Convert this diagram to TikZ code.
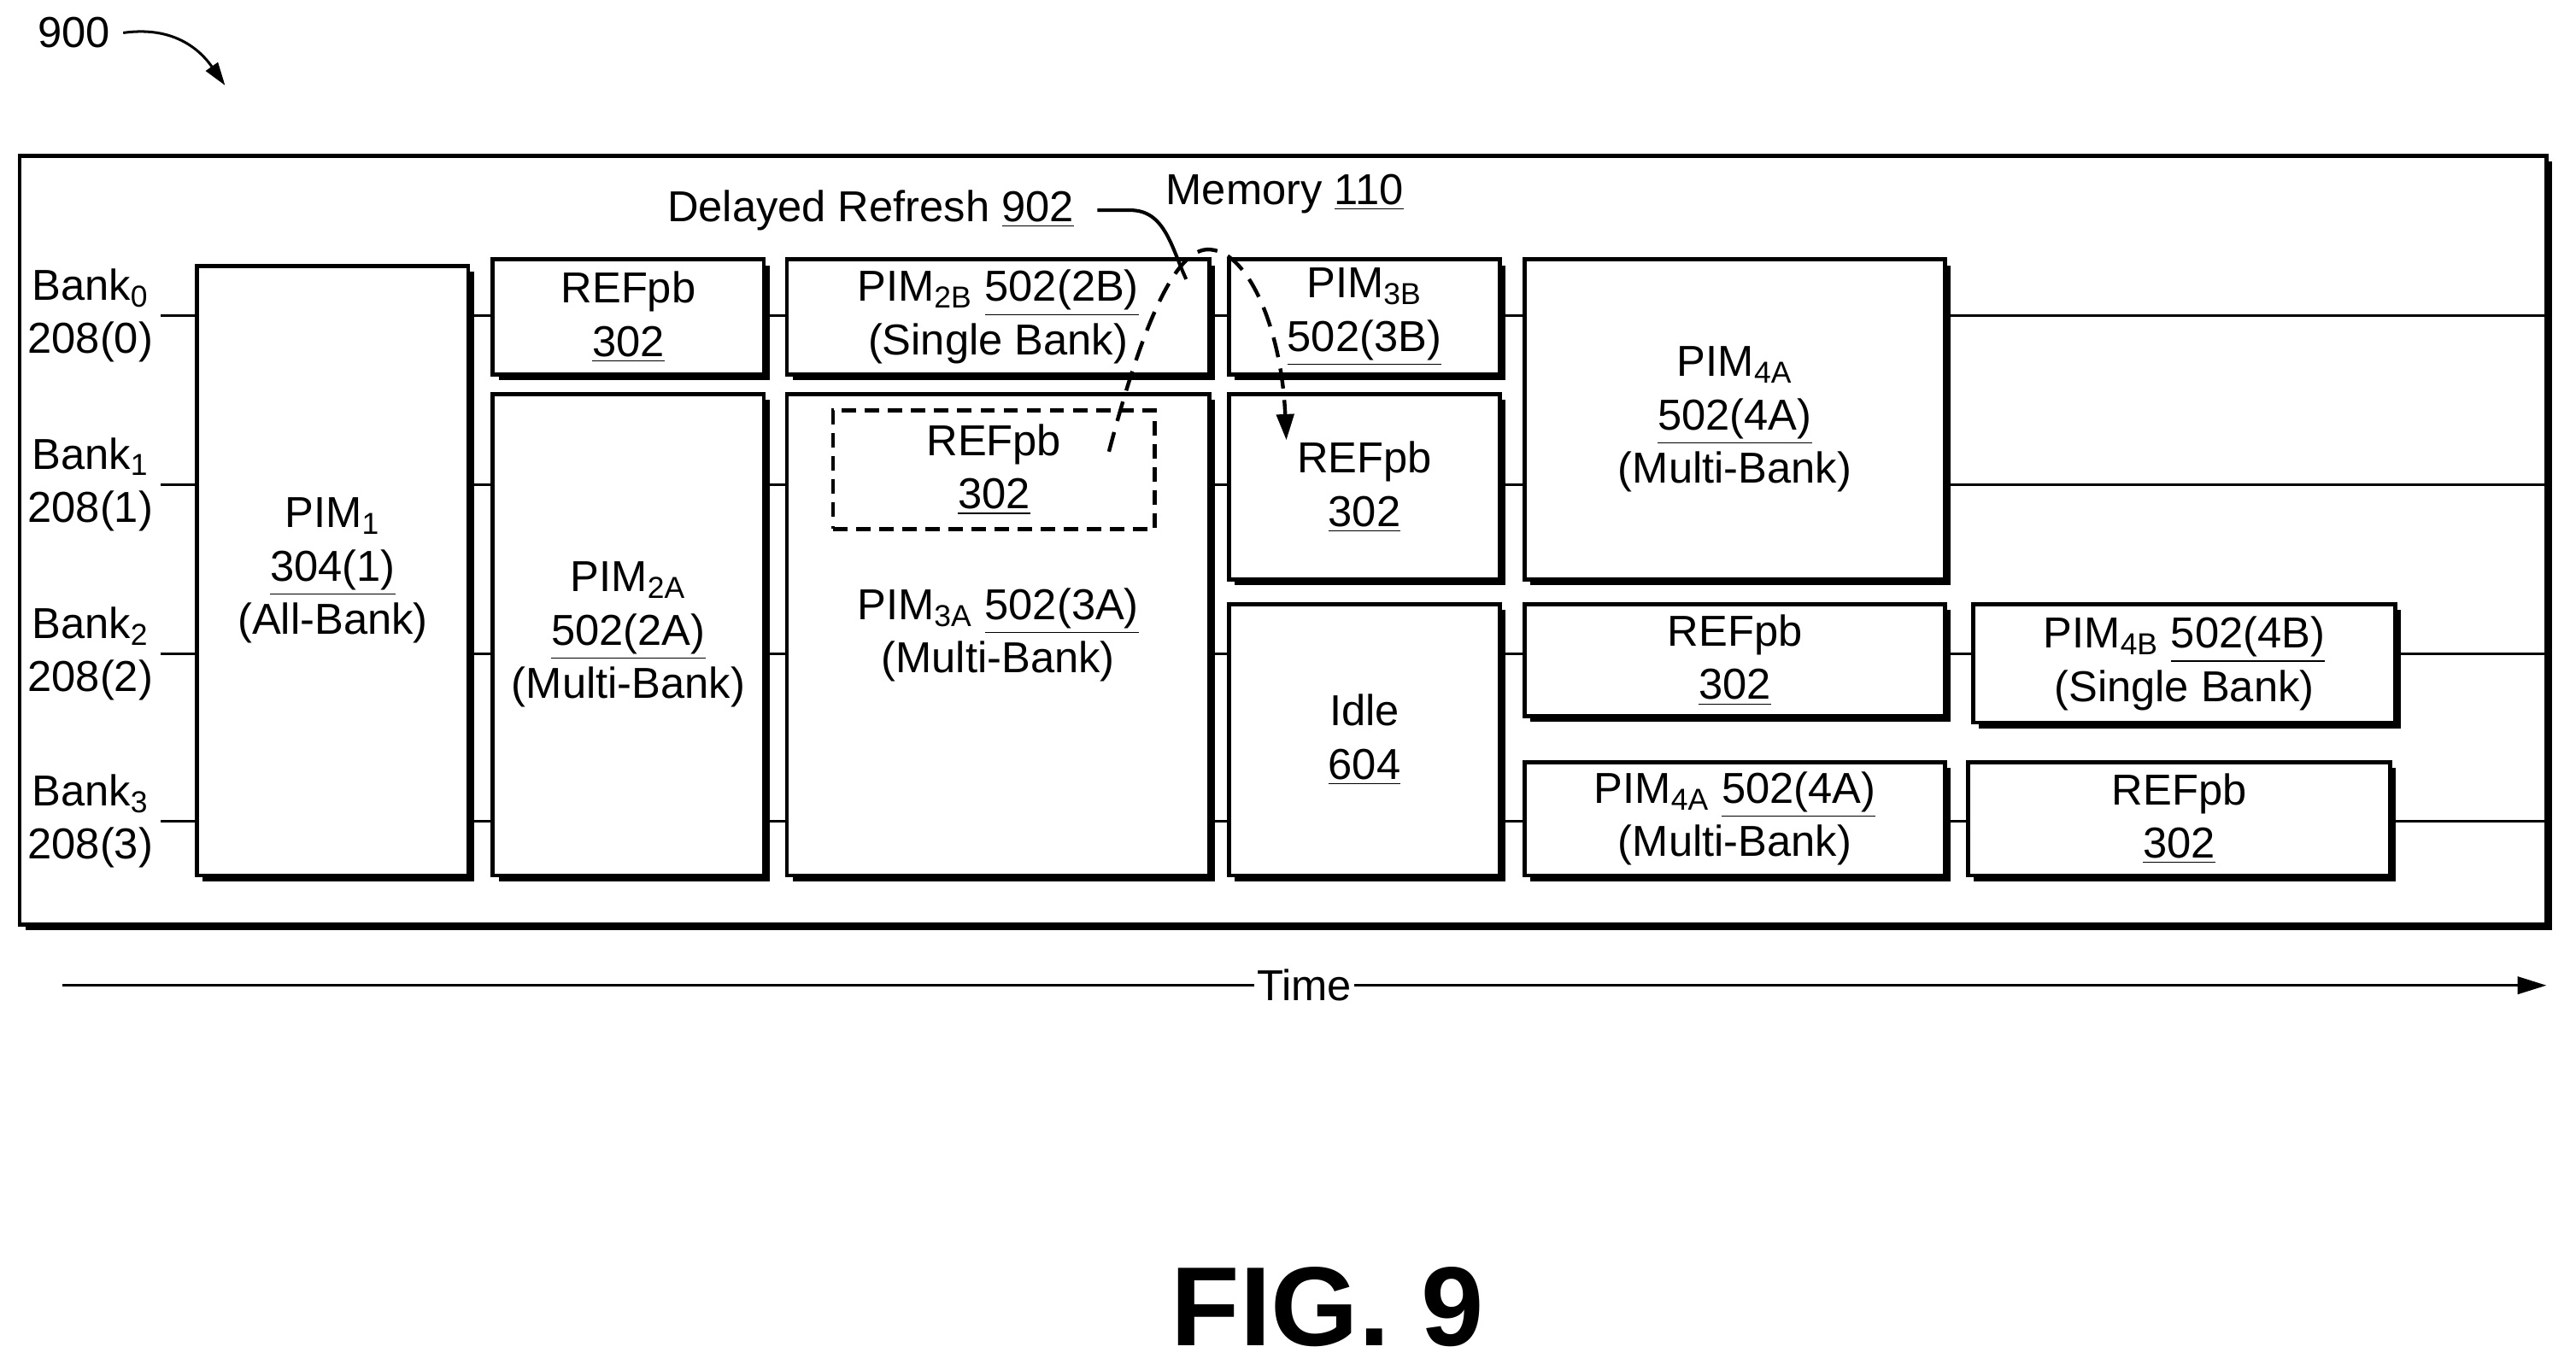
\documentclass[tikz,border=0pt]{standalone}
\usepackage{fontspec}
\setmainfont{Liberation Sans}
\usetikzlibrary{arrows.meta, positioning, fit, shadows}
\tikzset{
  lbl/.style={font=\fontsize{15}{18.5}\selectfont, align=center},
  blk/.style={draw=black, line width=1.4pt, fill=white, inner sep=0pt,
    drop shadow={shadow xshift=0.07cm, shadow yshift=-0.07cm, opacity=1, fill=black},
    label={[lbl]center:#1}},
  dblk/.style={draw=black, line width=1.4pt, dash pattern=on 5pt off 3pt, inner sep=0pt,
    label={[lbl]center:#1}},
  bank/.style={line width=0.9pt}
}
\newcommand{\sub}[1]{\textsubscript{#1}}
\begin{document}
\begin{tikzpicture}[x=0.02cm, y=-0.02cm]
  \useasboundingbox (0,0) rectangle (1568,834);

  % outer frame
  \node (frame) [blk={}, fit={(12,95) (1550,563)}] {};

  % bank lines
  \foreach \y/\i in {192/0, 295/1, 398/2, 500/3} {
    \coordinate (l\i) at (98,\y);
    \coordinate (r\i) at (1550,\y);
    \draw [bank] (l\i) -- (r\i);
    \node [lbl] at (55,\y) {Bank\sub{\i}\\208(\i)};
  }

  % blocks
  \node (pim1)  [blk={PIM\sub{1}\\\underline{304(1)}\\(All-Bank)}, fit={(120,162) (285,533)}] {};
  \node (ref0)  [blk={REFpb\\\underline{302}}, fit={(300,158) (465,228)}] {};
  \node (pim2a) [blk={PIM\sub{2A}\\\underline{502(2A)}\\(Multi-Bank)}, fit={(300,240) (465,533)}] {};
  \node (pim2b) [blk={PIM\sub{2B} \underline{502(2B)}\\(Single Bank)}, fit={(479,158) (736,228)}] {};
  \node (pim3a) [blk={PIM\sub{3A} \underline{502(3A)}\\(Multi-Bank)}, fit={(479,240) (736,533)}] {};
  \node (dref)  [dblk={REFpb\\\underline{302}}, fit={(507,250) (703,322)}] {};
  \node (pim3b) [blk={PIM\sub{3B}\\\underline{502(3B)}}, fit={(748,158) (913,228)}] {};
  \node (ref1)  [blk={REFpb\\\underline{302}}, fit={(748,240) (913,353)}] {};
  \node (idle)  [blk={Idle\\\underline{604}}, fit={(748,368) (913,533)}] {};
  \node (pim4a) [blk={PIM\sub{4A}\\\underline{502(4A)}\\(Multi-Bank)}, fit={(928,158) (1184,353)}] {};
  \node (ref2)  [blk={REFpb\\\underline{302}}, fit={(928,368) (1184,436)}] {};
  \node (pim4b) [blk={PIM\sub{4B} \underline{502(4B)}\\(Single Bank)}, fit={(1201,368) (1458,440)}] {};
  \node (pim4c) [blk={PIM\sub{4A} \underline{502(4A)}\\(Multi-Bank)}, fit={(928,464) (1184,533)}] {};
  \node (ref3)  [blk={REFpb\\\underline{302}}, fit={(1198,464) (1455,533)}] {};

  % labels
  \node (delay) [lbl] at (530,128) {Delayed Refresh \underline{902}};
  \node (mem) [lbl] at (782,118) {Memory \underline{110}};
  \coordinate (dtip) at (722,170);
  \draw [line width=1.2pt] (delay.east) ++(8,0) -- ++(20,0) to[out=0, in=115] (dtip);

  % delayed refresh move
  \coordinate (dstart) at (675,275);
  \coordinate (dend) at (783,268);
  \draw [line width=1.3pt, dash pattern=on 7pt off 4pt, -{Triangle[length=9pt, width=6pt]}]
    (dstart) .. controls (700,180) and (720,150) .. (737,152)
    .. controls (760,154) and (780,200) .. (dend);

  % time axis
  \coordinate (t0) at (38,600);
  \coordinate (t1) at (1550,600);
  \draw [line width=0.9pt, -{Triangle[length=10pt, width=6pt]}] (t0) -- node[lbl, fill=white, inner sep=1pt] {Time} (t1);

  % figure number
  \node (num) [lbl] at (45,20) {900};
  \draw [line width=0.9pt, -{Triangle[length=8pt, width=5pt]}] (75,20) .. controls (110,15) and (125,35) .. (137,52);
  \node (fig) [font=\bfseries\fontsize{39}{44}\selectfont] at (808,796) {FIG. 9};
\end{tikzpicture}
\end{document}
